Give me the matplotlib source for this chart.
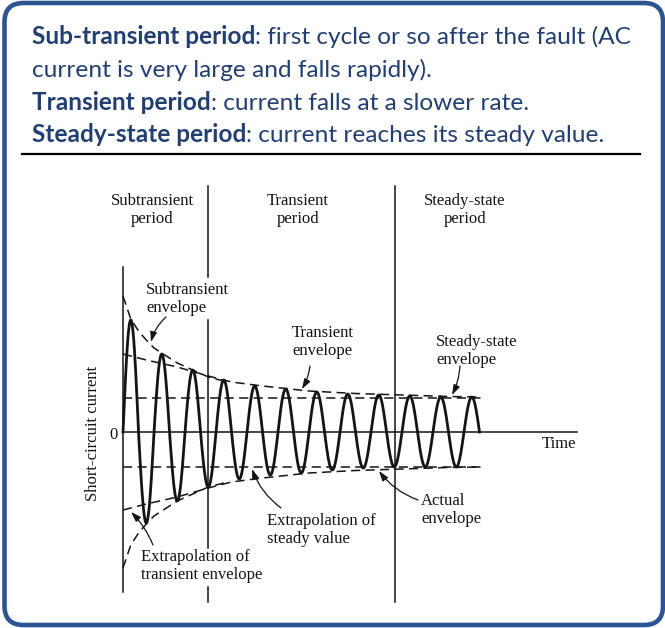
import numpy as np
import matplotlib.pyplot as plt
from matplotlib.patches import FancyBboxPatch

# ---- data ----
# peak value of each half cycle of the fault current (arb. units, sign alternates)
half_cycle_amp = [112, 91, 78, 69, 62, 55, 52, 47, 46, 43, 43, 41,
                  40, 38, 38, 36, 37, 35, 36, 35, 35, 35, 35]

# subtransient envelope (time in cycles, amplitude)
sub_env_t = [0.0, 0.25, 0.5, 0.75, 1.0, 1.25, 1.75, 2.25, 2.75, 3.25]
sub_env_a = [136, 113, 101, 92, 84, 79, 69, 62, 55, 51]

# transient envelope
trans_env_t = [0.0, 0.75, 1.75, 2.75, 3.5, 4.5, 6.0, 7.5, 9.0, 10.5, 11.55]
trans_env_a = [78, 72, 65, 56, 50, 46, 41, 38.5, 37, 35.5, 35]

steady_amp = 34.5
steady_end = 11.55
period_bounds = [2.74, 8.77]   # cycles where the periods change
time_axis_end = 14.65

header_lines = [("Sub-transient period", ": first cycle or so after the fault (AC"),
                ("", "current is very large and falls rapidly)."),
                ("Transient period", ": current falls at a slower rate."),
                ("Steady-state period", ": current reaches its steady value.")]
header_y = [44, 77, 110, 142]

navy = '#223f72'
ink = '#141414'
serif = 'Liberation Serif'

fig = plt.figure(figsize=(6.65, 6.28), dpi=100)

# page axes in pixel units for the frame and header
page = fig.add_axes([0, 0, 1, 1])
page.set_xlim(0, 665)
page.set_ylim(628, 0)
page.axis('off')

frame = FancyBboxPatch((4.5, 3), 658.5, 622, boxstyle='round,pad=0,rounding_size=19',
                       fc='white', ec='#2b5592', lw=3.3)
page.add_patch(frame)

renderer = fig.canvas.get_renderer()

# fit the header font so the first line spans like the original
probe = [page.text(0, 0, header_lines[0][0], fontsize=15, family='Lato', weight='bold'),
         page.text(0, 0, header_lines[0][1], fontsize=15, family='Lato')]
w = sum(t.get_window_extent(renderer).width for t in probe)
for t in probe:
    t.remove()
hfs = 15 * 600 / w

for (bold, rest), y in zip(header_lines, header_y):
    x = 32
    if bold:
        t = page.text(x, y, bold, fontsize=hfs, family='Lato', weight='bold',
                      color=navy, va='baseline')
        x += t.get_window_extent(renderer).width
    page.text(x, y, rest, fontsize=hfs, family='Lato', color=navy, va='baseline')

page.plot([22, 640], [154, 154], color='black', lw=1.6)

# ---- diagram axes: x in cycles, y in current units ----
diag = fig.add_axes([0, 0, 1, 1])
diag.set_xlim(-123 / 31, (665 - 123) / 31)
diag.set_ylim(-196, 432)
diag.axis('off')
diag.patch.set_alpha(0)

# waveform built lobe by lobe from the half-cycle peaks
s = np.linspace(0, 1, 40)
wave_t, wave_y = [], []
for k, a in enumerate(half_cycle_amp):
    wave_t.append((k + s) / 2)
    wave_y.append(a * np.sin(np.pi * s) * (-1) ** k)
diag.plot(np.concatenate(wave_t), np.concatenate(wave_y), color=ink, lw=2.0)

dash = dict(color=ink, lw=1.1, dashes=(6, 3.5))
for sign in (1, -1):
    diag.plot([0, steady_end], [sign * steady_amp] * 2, **dash)
    diag.plot(trans_env_t, [sign * a for a in trans_env_a], **dash)
    diag.plot(sub_env_t, [sign * a for a in sub_env_a], **dash)

# axes and period dividers
line = dict(color=ink, lw=1.1)
diag.plot([0, time_axis_end], [0, 0], **line)
diag.plot([0, 0], [165, -160], **line)
b1, b2 = period_bounds
diag.plot([b1, b1], [246, 155], **line)
diag.plot([b1, b1], [112, -116], **line)
diag.plot([b1, b1], [-155, -170], **line)
diag.plot([b2, b2], [246, -170], **line)

# ---- labels (pixel coordinates on the page axes) ----
lab = dict(family=serif, fontsize=12, color=ink, linespacing=1.1)
page.text(152, 210, 'Subtransient\nperiod', ha='center', va='center', **lab)
page.text(298, 210, 'Transient\nperiod', ha='center', va='center', **lab)
page.text(465, 210, 'Steady-state\nperiod', ha='center', va='center', **lab)
page.text(146, 299, 'Subtransient\nenvelope', ha='left', va='center', **lab)
page.text(292, 342, 'Transient\nenvelope', ha='left', va='center', **lab)
page.text(436, 351, 'Steady-state\nenvelope', ha='left', va='center', **lab)
page.text(542, 444, 'Time', ha='left', va='center', **lab)
page.text(113, 435, '0', ha='center', va='center', **lab)
page.text(267, 530, 'Extrapolation of\nsteady value', ha='left', va='center', **lab)
page.text(421, 510, 'Actual\nenvelope', ha='left', va='center', **lab)
page.text(141, 566, 'Extrapolation of\ntransient envelope', ha='left', va='center', **lab)
page.text(93, 433, 'Short-circuit current', rotation=90, ha='center', va='center', **lab)

arrow = dict(arrowstyle='-|>,head_length=0.6,head_width=0.2', color=ink, lw=0.9,
             shrinkA=0, shrinkB=0)
leaders = [((166, 317), (151, 342), 0.15),
           ((310, 366), (302, 389), -0.1),
           ((460, 366), (452, 395), -0.1),
           ((281, 508), (252, 469), -0.15),
           ((418, 500), (379, 471), -0.15),
           ((153, 545), (131, 512), 0.1)]
for start, end, rad in leaders:
    page.annotate('', xy=end, xytext=start,
                  arrowprops=dict(connectionstyle=f'arc3,rad={rad}', **arrow))

fig.savefig('out.png', dpi=100)
